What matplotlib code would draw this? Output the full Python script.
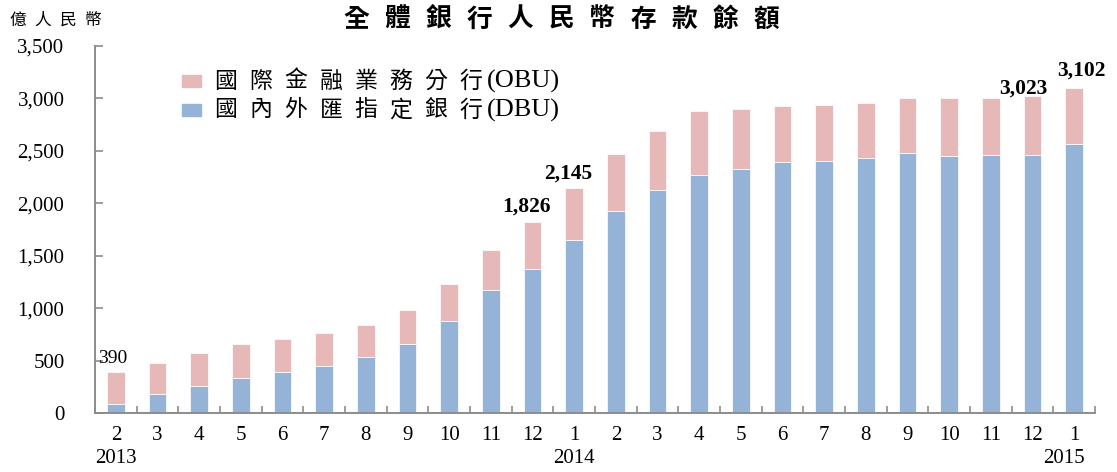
import matplotlib
matplotlib.use("Agg")
import matplotlib.pyplot as plt
from matplotlib.patches import Rectangle
from matplotlib.ticker import FuncFormatter
import numpy as np

# monthly deposit balances, 100 million RMB, Feb 2013 - Jan 2015
months = ['2', '3', '4', '5', '6', '7', '8', '9', '10', '11', '12',
          '1', '2', '3', '4', '5', '6', '7', '8', '9', '10', '11', '12', '1']
years = ['2013', '2014', '2015']
year_pos = [0, 11, 22.75]

dbu = [90, 178, 261, 337, 394, 451, 534, 658, 877, 1176, 1377, 1653,
       1930, 2124, 2273, 2330, 2397, 2406, 2435, 2477, 2454, 2464, 2464, 2568]
obu = [300, 299, 308, 324, 312, 312, 309, 321, 353, 375, 449, 492,
       540, 563, 607, 570, 531, 531, 524, 527, 550, 540, 559, 534]

labelled = [0, 10, 11, 22, 23]
label_offsets = [(-2, 6.5), (-4, 7), (-4, 7), (-6.5, 2), (5, 8.5)]

blue = '#95B3D7'
pink = '#E6B9B8'
gray = '#8C8C8C'

plt.rcParams['font.family'] = ['Liberation Serif', 'Noto Sans CJK TC']
cjk = ['Noto Sans CJK TC', 'DejaVu Sans']

W, H = 1117, 472
fig = plt.figure(figsize=(W / 100, H / 100), dpi=100)
ax = fig.add_axes([95 / W, 59 / H, 1000 / W, 367 / H])


def fx(x):
    return x / W


def fy(y):
    return 1 - y / H


def spaced(x, y, s, pitch, **kw):
    # one character at a time so the glyphs sit on a fixed pitch
    for i, ch in enumerate(s):
        fig.text(fx(x + i * pitch), fy(y), ch, ha='center', va='center', **kw)


x = np.arange(len(months))
total = np.array(dbu) + np.array(obu)
ax.bar(x, dbu, 0.42, color=blue, edgecolor='white', linewidth=0.5)
ax.bar(x, obu, 0.42, bottom=dbu, color=pink, edgecolor='white', linewidth=0.5)

for i, (dx, dy) in zip(labelled, label_offsets):
    bold = i != 0
    ax.annotate(f'{total[i]:,}', (i, total[i]), xytext=(dx, dy),
                textcoords='offset points', ha='center', va='baseline',
                fontsize=15.5 if bold else 14,
                fontweight='bold' if bold else 'normal')

ax.set_xlim(-0.5, len(months) - 0.5)
ax.set_ylim(0, 3500)
ax.set_yticks(range(0, 3501, 500))
ax.yaxis.set_major_formatter(FuncFormatter(lambda v, p: f'{v:,.0f}'))
ax.set_xticks(x)
ax.set_xticklabels(months)
ax.set_xticks(np.arange(-0.5, len(months)), minor=True)

for side in ['top', 'right']:
    ax.spines[side].set_visible(False)
for side in ['left', 'bottom']:
    ax.spines[side].set_color(gray)
    ax.spines[side].set_linewidth(1.4)

ax.tick_params(axis='y', direction='in', length=6, width=1.2, color=gray,
               pad=22, labelsize=15)
ax.tick_params(axis='x', which='major', length=0, pad=9, labelsize=15)
ax.tick_params(axis='x', which='minor', direction='in', length=5,
               width=1.2, color=gray)

for pos, yr in zip(year_pos, years):
    ax.text(pos, -0.136, yr, transform=ax.get_xaxis_transform(),
            ha='center', va='baseline', fontsize=15)

# title and unit
spaced(356, 19, '全體銀行人民幣存款餘額', 41, family=cjk, fontsize=18.5,
       fontweight='bold')
spaced(18, 20, '億人民幣', 25, family=cjk, fontsize=12)

# legend
legend_rows = [(81, pink, '國際金融業務分行', '(OBU)'),
               (110, blue, '國內外匯指定銀行', '(DBU)')]
for y, c, name, tag in legend_rows:
    fig.patches.append(Rectangle((fx(182), fy(y + 6)), 19 / W, 12 / H,
                                 color=c, transform=fig.transFigure))
    spaced(226, y, name, 35, family=cjk, fontsize=16.5)
    fig.text(fx(487), fy(y), tag, ha='left', va='center', fontsize=19)

fig.savefig('out.png', dpi=100)
